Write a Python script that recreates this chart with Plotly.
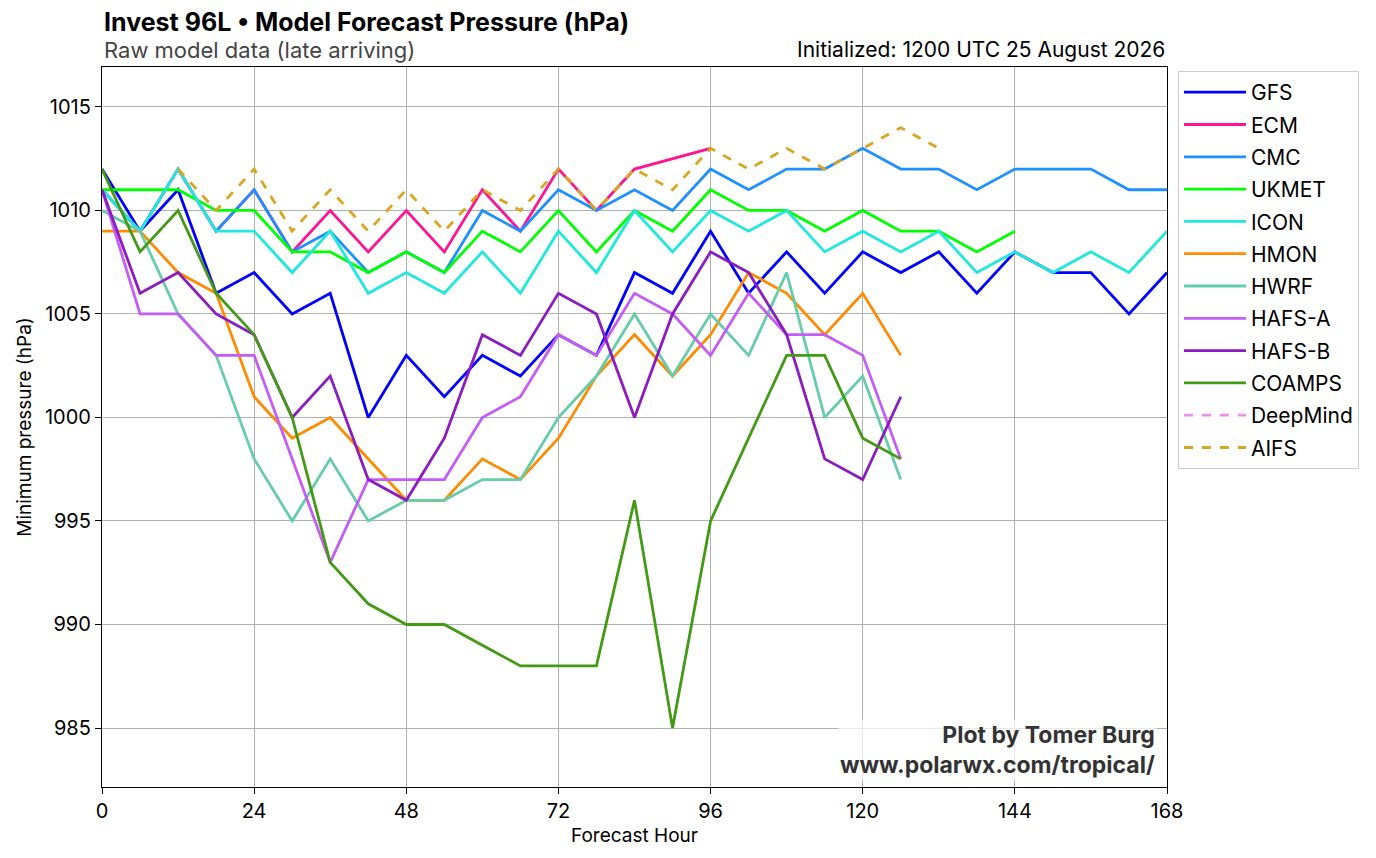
import plotly.graph_objects as go

# forecast hours (6-hourly)
hours = list(range(0, 169, 6))

gfs = [1012, 1009, 1011, 1006, 1007, 1005, 1006, 1000, 1003, 1001, 1003, 1002, 1004, 1003, 1007,
       1006, 1009, 1006, 1008, 1006, 1008, 1007, 1008, 1006, 1008, 1007, 1007, 1005, 1007]
ecm_hours = [0, 6, 12, 18, 24, 30, 36, 42, 48, 54, 60, 66, 72, 78, 84, 96]
ecm = [1011, 1009, 1012, 1009, 1011, 1008, 1010, 1008, 1010, 1008, 1011, 1009, 1012, 1010, 1012, 1013]
cmc = [1011, 1009, 1012, 1009, 1011, 1008, 1009, 1007, 1008, 1007, 1010, 1009, 1011, 1010, 1011,
       1010, 1012, 1011, 1012, 1012, 1013, 1012, 1012, 1011, 1012, 1012, 1012, 1011, 1011]
ukmet = [1011, 1011, 1011, 1010, 1010, 1008, 1008, 1007, 1008, 1007, 1009, 1008, 1010, 1008, 1010,
         1009, 1011, 1010, 1010, 1009, 1010, 1009, 1009, 1008, 1009]
icon = [1011, 1009, 1012, 1009, 1009, 1007, 1009, 1006, 1007, 1006, 1008, 1006, 1009, 1007, 1010,
        1008, 1010, 1009, 1010, 1008, 1009, 1008, 1009, 1007, 1008, 1007, 1008, 1007, 1009]
hmon = [1009, 1009, 1007, 1006, 1001, 999, 1000, 998, 996, 996, 998, 997, 999, 1002, 1004,
        1002, 1004, 1007, 1006, 1004, 1006, 1003]
hwrf = [1010, 1009, 1005, 1003, 998, 995, 998, 995, 996, 996, 997, 997, 1000, 1002, 1005,
        1002, 1005, 1003, 1007, 1000, 1002, 997]
hafs_a = [1011, 1005, 1005, 1003, 1003, 998, 993, 997, 997, 997, 1000, 1001, 1004, 1003, 1006,
          1005, 1003, 1006, 1004, 1004, 1003, 998]
hafs_b = [1011, 1006, 1007, 1005, 1004, 1000, 1002, 997, 996, 999, 1004, 1003, 1006, 1005, 1000,
          1005, 1008, 1007, 1004, 998, 997, 1001]
coamps = [1012, 1008, 1010, 1006, 1004, 1000, 993, 991, 990, 990, 989, 988, 988, 988, 996,
          985, 995, 999, 1003, 1003, 999, 998]
deepmind = [None]  # no data arrived, legend entry only
aifs_hours = list(range(12, 133, 6))
aifs = [1012, 1010, 1012, 1009, 1011, 1009, 1011, 1009, 1011, 1010, 1012, 1010, 1012, 1011, 1013,
        1012, 1013, 1012, 1013, 1014, 1013]

models = [
    ("GFS", hours, gfs, "#0000ff", "solid"),
    ("ECM", ecm_hours, ecm, "#ff1493", "solid"),
    ("CMC", hours, cmc, "#1e90ff", "solid"),
    ("UKMET", hours, ukmet, "#00ff00", "solid"),
    ("ICON", hours, icon, "#20e8dd", "solid"),
    ("HMON", hours, hmon, "#ff8c00", "solid"),
    ("HWRF", hours, hwrf, "#66cdaa", "solid"),
    ("HAFS-A", hours, hafs_a, "#c55cf7", "solid"),
    ("HAFS-B", hours, hafs_b, "#8a1cc0", "solid"),
    ("COAMPS", hours, coamps, "#439a14", "solid"),
    ("DeepMind", hours, deepmind, "#ee90ee", "dash"),
    ("AIFS", aifs_hours, aifs, "#daa520", "dash"),
]

fig = go.Figure()
for name, x, y, color, dash in models:
    fig.add_trace(go.Scatter(
        x=x[:len(y)], y=y, name=name, mode="lines", legendgroup=name,
        line=dict(color=color, width=2.8, dash=dash),
    ))

axis_common = dict(
    showline=True, linecolor="black", linewidth=1.2, mirror=True,
    showgrid=True, gridcolor="#b0b0b0", gridwidth=1,
    ticks="outside", ticklen=6, tickcolor="black",
    tickfont=dict(size=20, color="black"), zeroline=False,
)

fig.update_layout(
    width=1376, height=858,
    margin=dict(l=102, r=209, t=67, b=71),
    paper_bgcolor="white", plot_bgcolor="white",
    font=dict(family="Inter, Lato, sans-serif", color="black"),
    xaxis=dict(range=[0, 168], tickvals=list(range(0, 169, 24)),
               title=dict(text="Forecast Hour", font=dict(size=19), standoff=6), **axis_common),
    yaxis=dict(range=[982.15, 1016.93], tickvals=list(range(985, 1016, 5)),
               title=dict(text="Minimum pressure (hPa)", font=dict(size=19), standoff=8), **axis_common),
    legend=dict(x=1.0103, y=0.9944, xanchor="left", yanchor="top",
                bordercolor="#cccccc", borderwidth=1, bgcolor="white",
                font=dict(size=21), tracegroupgap=2, itemwidth=62),
    showlegend=True,
)

fig.add_annotation(xref="paper", yref="paper", x=0, y=1, xanchor="left", yanchor="middle",
                   yshift=45, text="<b>Invest 96L • Model Forecast Pressure (hPa)</b>",
                   showarrow=False, font=dict(size=25, color="black"))
fig.add_annotation(xref="paper", yref="paper", x=0, y=1, xanchor="left", yanchor="middle",
                   yshift=17, text="Raw model data (late arriving)",
                   showarrow=False, font=dict(size=22, color="#444444"))
fig.add_annotation(xref="paper", yref="paper", x=1, y=1, xanchor="right", yanchor="middle",
                   yshift=18, text="Initialized: 1200 UTC 25 August 2026",
                   showarrow=False, font=dict(size=21, color="black"))
fig.add_annotation(xref="paper", yref="paper", x=0.991, y=0.008, xanchor="right", yanchor="bottom",
                   text="<b>Plot by Tomer Burg</b><br><b>www.polarwx.com/tropical/</b>",
                   align="right", showarrow=False, bgcolor="rgba(255,255,255,0.7)",
                   font=dict(size=23, color="#333333"))

# drop the browser's default page margin so the figure sits at the window corner
fig.write_html("out.html", config={"displayModeBar": False},
               post_script="document.body.style.margin = '0';")
